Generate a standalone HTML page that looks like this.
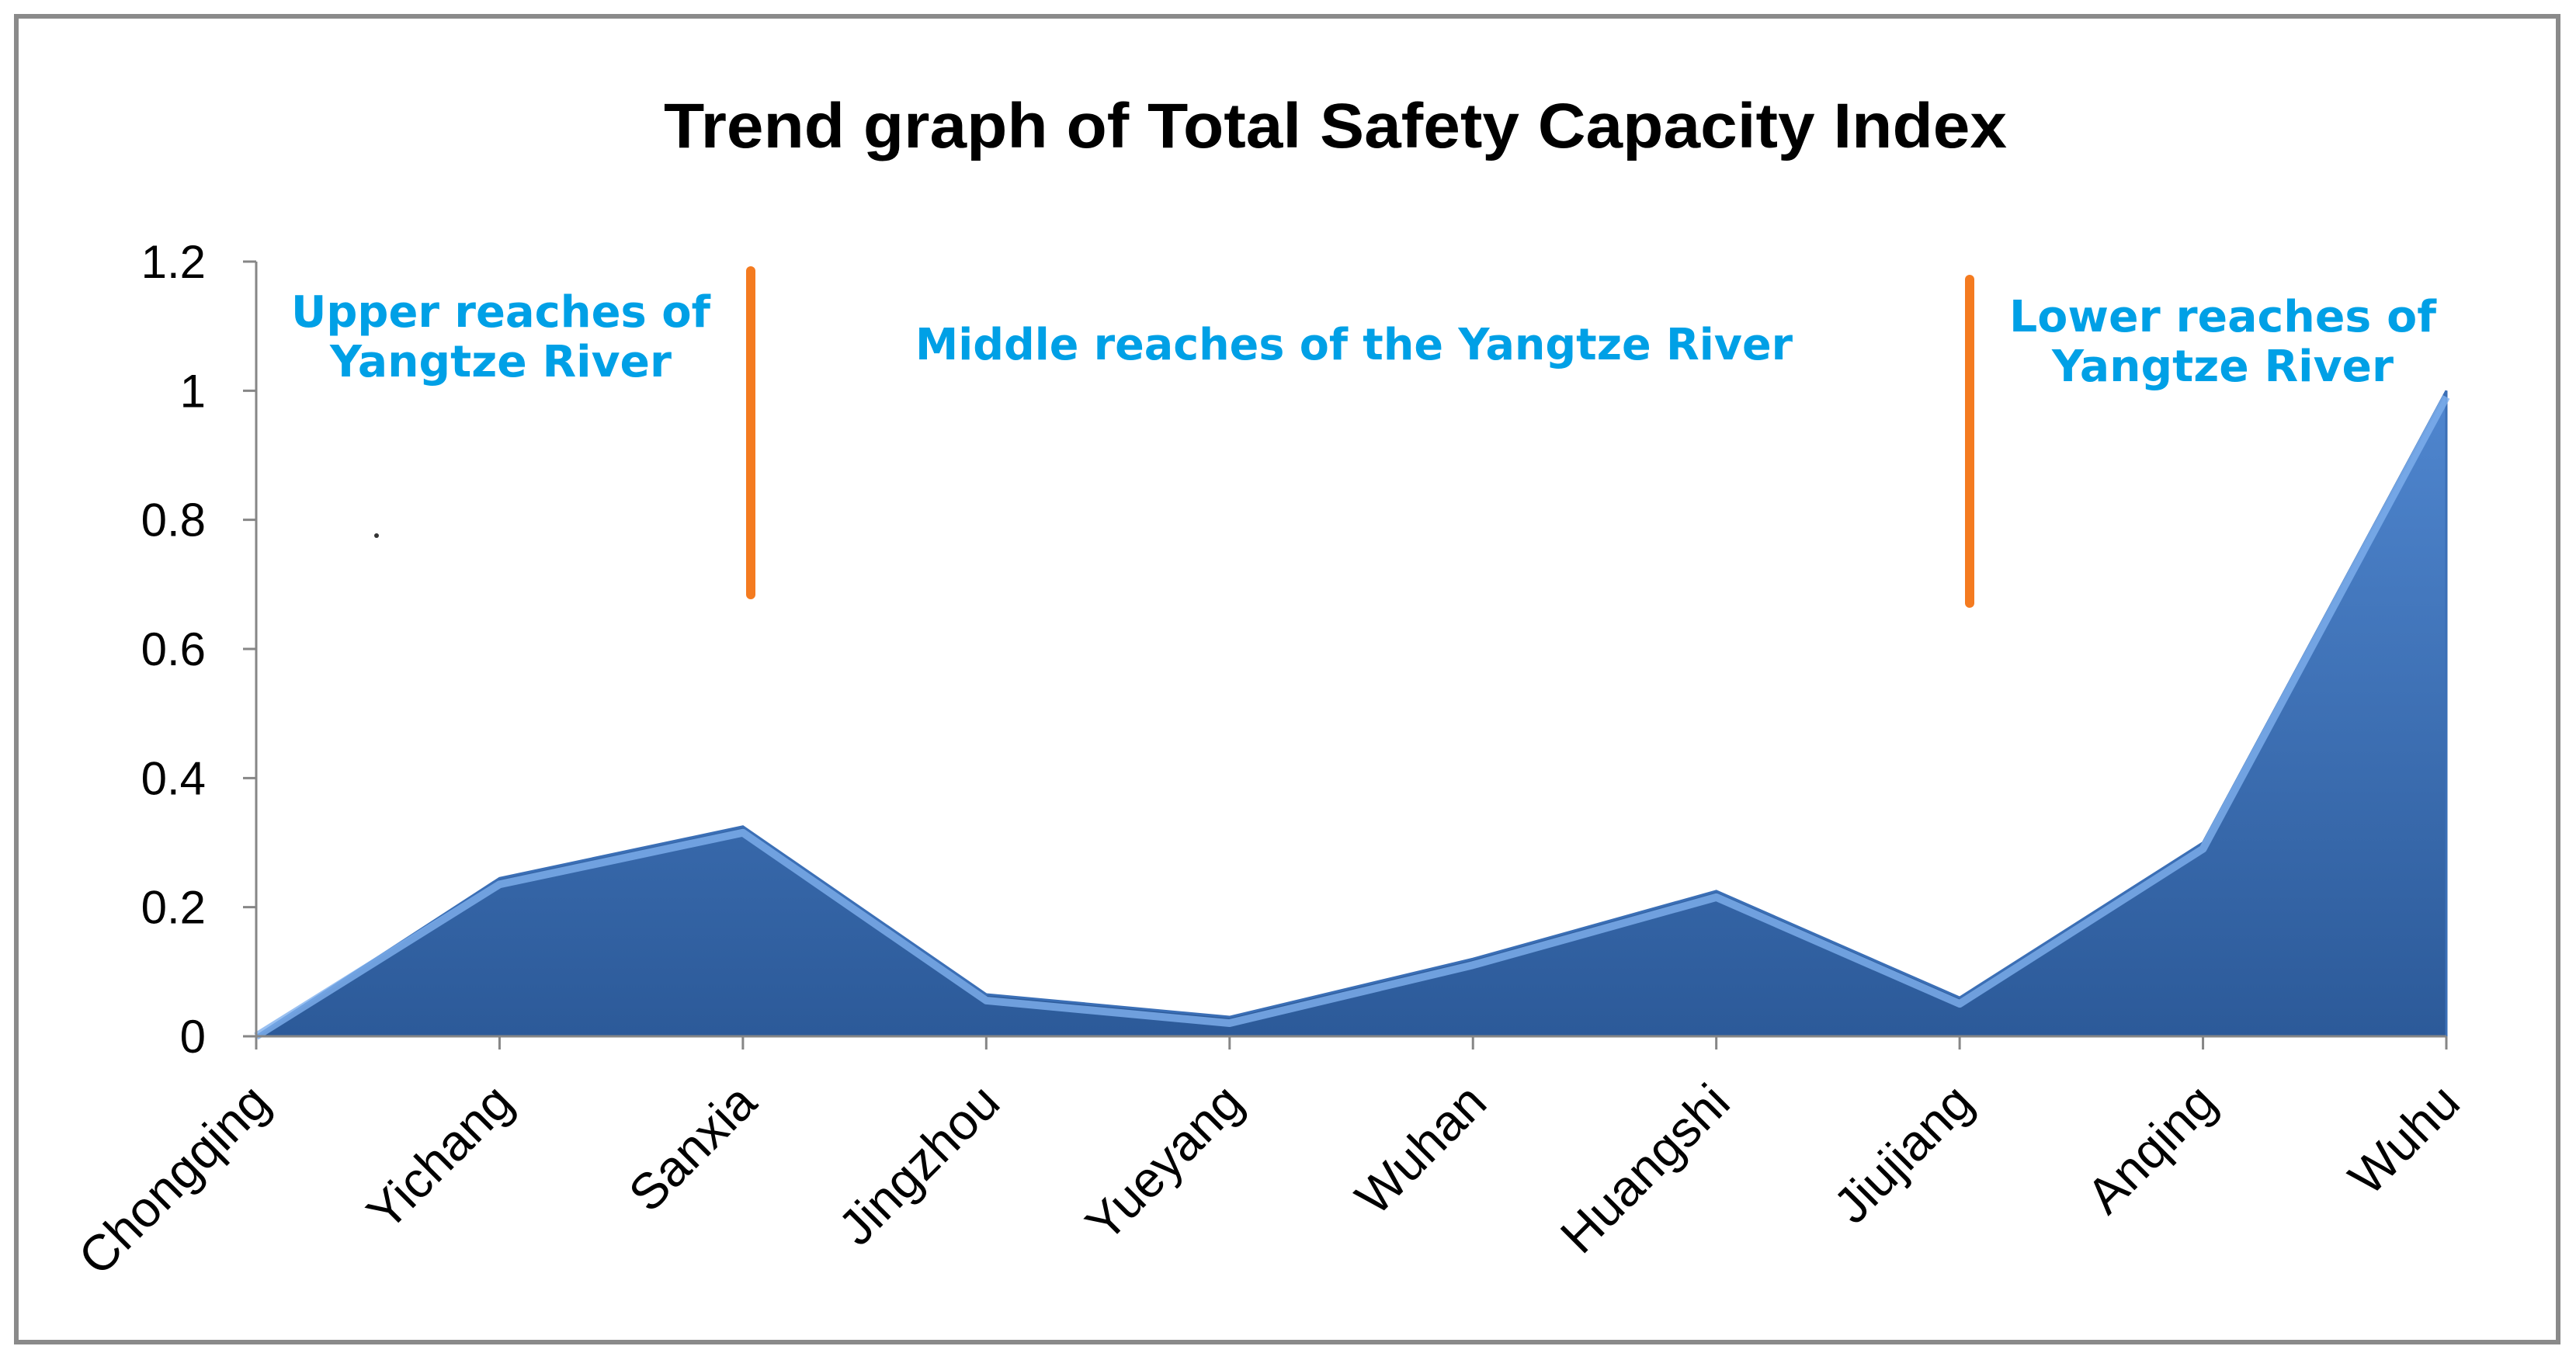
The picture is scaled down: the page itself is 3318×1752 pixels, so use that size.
<!DOCTYPE html>
<html><head><meta charset="utf-8"><style>
html,body{margin:0;padding:0;background:#fff;}
svg{display:block;}
</style></head><body>
<svg id="chart" width="3318" height="1752" viewBox="0 0 3318 1752" xmlns="http://www.w3.org/2000/svg">
<defs>
<linearGradient id="fillg" x1="0" y1="0" x2="0" y2="1">
<stop offset="0" stop-color="#4f86cf"/>
<stop offset="1" stop-color="#2c5a99"/>
</linearGradient>
</defs>
<rect x="21" y="21" width="3274" height="1708" fill="#fff" stroke="#8a8a8a" stroke-width="6"/>
<text x="1720" y="190" text-anchor="middle" font-family="Liberation Sans, sans-serif" font-weight="bold" font-size="82" fill="#000" textLength="1730" lengthAdjust="spacingAndGlyphs">Trend graph of Total Safety Capacity Index</text>
<g id="plot"></g>
<g font-family="DejaVu Sans, Liberation Sans, sans-serif" font-weight="bold" font-size="56" fill="#00a0e6" text-anchor="middle">
<text x="645" y="421" textLength="540" lengthAdjust="spacingAndGlyphs">Upper reaches of</text>
<text x="645" y="485" textLength="440" lengthAdjust="spacingAndGlyphs">Yangtze River</text>
<text x="1744" y="463" textLength="1130" lengthAdjust="spacingAndGlyphs">Middle reaches of the Yangtze River</text>
<text x="2863" y="427" textLength="550" lengthAdjust="spacingAndGlyphs">Lower reaches of</text>
<text x="2863" y="491" textLength="440" lengthAdjust="spacingAndGlyphs">Yangtze River</text>
</g>
<line x1="967" y1="349" x2="967" y2="766" stroke="#f47b20" stroke-width="12" stroke-linecap="round"/>
<line x1="2537" y1="360" x2="2537" y2="777" stroke="#f47b20" stroke-width="12" stroke-linecap="round"/>
<circle cx="485" cy="690" r="3" fill="#333"/>
</svg>
<script>
const categories = ["Chongqing","Yichang","Sanxia","Jingzhou","Yueyang","Wuhan","Huangshi","Jiujiang","Anqing","Wuhu"];
const values = [0, 0.245, 0.325, 0.065, 0.03, 0.12, 0.225, 0.06, 0.3, 1.0];
const yTicks = [0, 0.2, 0.4, 0.6, 0.8, 1, 1.2];
const yTickLabels = ["0","0.2","0.4","0.6","0.8","1","1.2"];

const NS = "http://www.w3.org/2000/svg";
const X0 = 330, X1 = 3151, Y0 = 1335, Ytop = 337, YMAX = 1.2;
function xPos(i){ return X0 + (X1 - X0) * i / (categories.length - 1); }
function yPos(v){ return Y0 - (Y0 - Ytop) * v / YMAX; }
function mk(tag, attrs){ const e = document.createElementNS(NS, tag); for (const k in attrs) e.setAttribute(k, attrs[k]); return e; }
const g = document.getElementById('plot');

let d = "M" + xPos(0) + "," + Y0;
values.forEach((v,i)=>{ d += " L" + xPos(i) + "," + yPos(v); });
d += " L" + xPos(values.length-1) + "," + Y0 + " Z";
const area = mk('path', {d: d, fill: 'url(#fillg)', stroke: '#3b6fb6', 'stroke-width': 3});


g.appendChild(area);
let d2 = "";
values.forEach((v,i)=>{ d2 += (i? " L":"M") + xPos(i) + "," + Math.min(Y0, yPos(v)+8); });
const edge = mk('path', {d: d2, fill: 'none', stroke: '#7fb0ee', 'stroke-width': 10, 'stroke-linejoin': 'round', opacity: 0.8});


g.appendChild(edge);

const yAxis = mk('line', {x1: X0, y1: Ytop, x2: X0, y2: Y0, stroke: '#868686', 'stroke-width': 3});


g.appendChild(yAxis);
const xAxis = mk('line', {x1: X0, y1: Y0, x2: X1, y2: Y0, stroke: '#868686', 'stroke-width': 3});


g.appendChild(xAxis);

yTicks.forEach((t,i)=>{
  const y = yPos(t);
  const tk = mk('line', {x1: X0-17, y1: y, x2: X0, y2: y, stroke: '#868686', 'stroke-width': 3});
  
  
  g.appendChild(tk);
  const tx = mk('text', {x: 265, y: y + 21, 'text-anchor': 'end', 'font-family': 'Liberation Sans, sans-serif', 'font-size': 60, fill: '#000'});
  tx.textContent = yTickLabels[i];
  
  
  g.appendChild(tx);
});

categories.forEach((c,i)=>{
  const x = xPos(i);
  const tk = mk('line', {x1: x, y1: Y0, x2: x, y2: Y0+17, stroke: '#868686', 'stroke-width': 3});
  
  
  g.appendChild(tk);
  const lx = x + 21, ly = 1424;
  const tx = mk('text', {x: lx, y: ly, 'text-anchor': 'end', 'font-family': 'Liberation Sans, sans-serif', 'font-size': 65, fill: '#000', transform: 'rotate(-45 ' + lx + ' ' + ly + ')'});
  tx.textContent = c;
  
  
  g.appendChild(tx);
});
</script>
</body></html>
